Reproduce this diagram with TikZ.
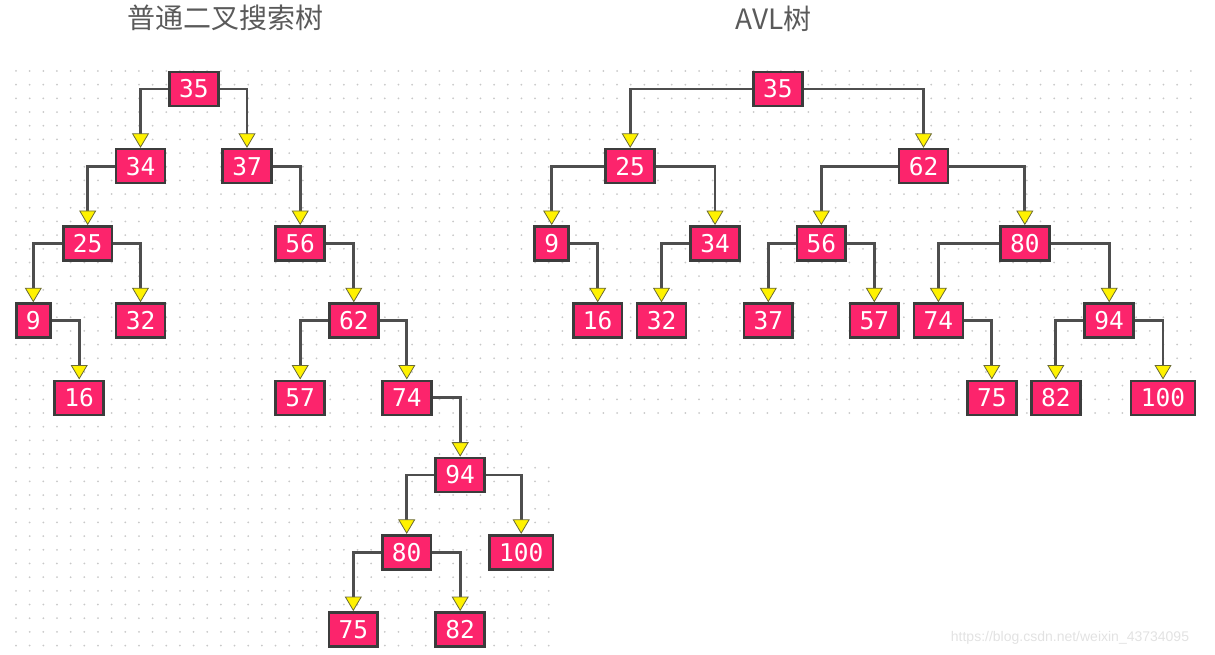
\documentclass[tikz,border=0pt]{standalone}
\usepackage{fontspec}
\setmonofont{DejaVu Sans Mono}
\newfontfamily\cjkfont{Noto Sans CJK SC}
\newfontfamily\wmfont{Liberation Sans}
\usetikzlibrary{arrows.meta}
\definecolor{boxfill}{RGB}{252,36,108}
\definecolor{boxline}{RGB}{60,60,60}
\definecolor{linkc}{RGB}{78,78,78}
\definecolor{tipline}{RGB}{105,105,55}
\definecolor{dotc}{RGB}{200,200,200}
\definecolor{titlec}{RGB}{90,90,90}
\definecolor{wmc}{RGB}{226,226,226}
\tikzset{
  tnode/.style={draw=boxline, line width=2.6pt, fill=boxfill, text=white,
    font=\ttfamily\fontsize{24.5}{24.5}\selectfont, inner xsep=9.7pt, inner ysep=0pt,
    minimum height=34pt, anchor=center},
  link/.style={draw=linkc, line width=2.7pt,
    -{Triangle[width=17pt,length=14.5pt,fill=yellow,color=tipline,line width=0.8pt]}},
  titletext/.style={text=titlec, font=\cjkfont\fontsize{28}{28}\selectfont, inner sep=0pt},
}
\begin{document}
\begin{tikzpicture}[x=1pt,y=-1pt]
\useasboundingbox (0,0) rectangle (1215,655);
% dotted grid
\foreach \i in {0,...,86}{
  \foreach \j in {0,...,25}{
    \fill[dotc] (16+\i*13.66,71+\j*13.68) circle[radius=1pt];
  }
}
\foreach \i in {0,...,37}{
  \foreach \j in {26,27,28}{
    \fill[dotc] (16+\i*13.66,71+\j*13.68) circle[radius=1pt];
  }
}
\foreach \i in {0,...,39}{
  \foreach \j in {29,...,42}{
    \fill[dotc] (16+\i*13.66,71+\j*13.68) circle[radius=1pt];
  }
}
% titles
\node[titletext] (t1) at (225.5,18) {普通二叉搜索树};
\node[titletext] (t2) at (773.7,19) {AVL树};
\node[text=wmc, font=\wmfont\fontsize{14}{14}\selectfont, inner sep=0pt] (wm) at (1070,638) {https://blog.csdn.net/weixin\_43734095};
% left tree
\def\ra{89}\def\rb{166.2}\def\rc{243.4}\def\rd{320.6}\def\re{397.8}\def\rf{475}\def\rg{552.2}\def\rh{629.4}
\node[tnode] (L35) at (193.8,\ra) {35};
\node[tnode] (L34) at (140.5,\rb) {34};
\node[tnode] (L37) at (247,\rb) {37};
\node[tnode] (L25) at (87.7,\rc) {25};
\node[tnode] (L56) at (300.2,\rc) {56};
\node[tnode] (L9) at (33.3,\rd) {9};
\node[tnode] (L32) at (140.5,\rd) {32};
\node[tnode] (L62) at (353.8,\rd) {62};
\node[tnode] (L16) at (79.2,\re) {16};
\node[tnode] (L57) at (300.2,\re) {57};
\node[tnode] (L74) at (406.8,\re) {74};
\node[tnode] (L94) at (460.2,\rf) {94};
\node[tnode] (L80) at (406.7,\rg) {80};
\node[tnode] (L100) at (521.2,\rg) {100};
\node[tnode] (L75) at (353.3,\rh) {75};
\node[tnode] (L82) at (460.2,\rh) {82};
% right tree
\node[tnode] (R35) at (777.8,\ra) {35};
\node[tnode] (R25) at (630.2,\rb) {25};
\node[tnode] (R62) at (923.5,\rb) {62};
\node[tnode] (R9) at (551.7,\rc) {9};
\node[tnode] (R34) at (715,\rc) {34};
\node[tnode] (R56) at (821.3,\rc) {56};
\node[tnode] (R80) at (1024.8,\rc) {80};
\node[tnode] (R16) at (597.7,\rd) {16};
\node[tnode] (R32) at (661.5,\rd) {32};
\node[tnode] (R37) at (768.3,\rd) {37};
\node[tnode] (R57) at (874.3,\rd) {57};
\node[tnode] (R74) at (938.4,\rd) {74};
\node[tnode] (R94) at (1109.2,\rd) {94};
\node[tnode] (R75) at (991.8,\re) {75};
\node[tnode] (R82) at (1055.8,\re) {82};
\node[tnode] (R100) at (1163,\re) {100};
% left links
\draw[link] (L35.west) -| (L34.north);
\draw[link] (L35.east) -| (L37.north);
\draw[link] (L34.west) -| (L25.north);
\draw[link] (L37.east) -| (L56.north);
\draw[link] (L25.west) -| (L9.north);
\draw[link] (L25.east) -| (L32.north);
\draw[link] (L9.east) -| (L16.north);
\draw[link] (L56.east) -| (L62.north);
\draw[link] (L62.west) -| (L57.north);
\draw[link] (L62.east) -| (L74.north);
\draw[link] (L74.east) -| (L94.north);
\draw[link] (L94.west) -| (L80.north);
\draw[link] (L94.east) -| (L100.north);
\draw[link] (L80.west) -| (L75.north);
\draw[link] (L80.east) -| (L82.north);
% right links
\draw[link] (R35.west) -| (R25.north);
\draw[link] (R35.east) -| (R62.north);
\draw[link] (R25.west) -| (R9.north);
\draw[link] (R25.east) -| (R34.north);
\draw[link] (R9.east) -| (R16.north);
\draw[link] (R34.west) -| (R32.north);
\draw[link] (R62.west) -| (R56.north);
\draw[link] (R62.east) -| (R80.north);
\draw[link] (R56.west) -| (R37.north);
\draw[link] (R56.east) -| (R57.north);
\draw[link] (R80.west) -| (R74.north);
\draw[link] (R80.east) -| (R94.north);
\draw[link] (R74.east) -| (R75.north);
\draw[link] (R94.west) -| (R82.north);
\draw[link] (R94.east) -| (R100.north);
\end{tikzpicture}
\end{document}
